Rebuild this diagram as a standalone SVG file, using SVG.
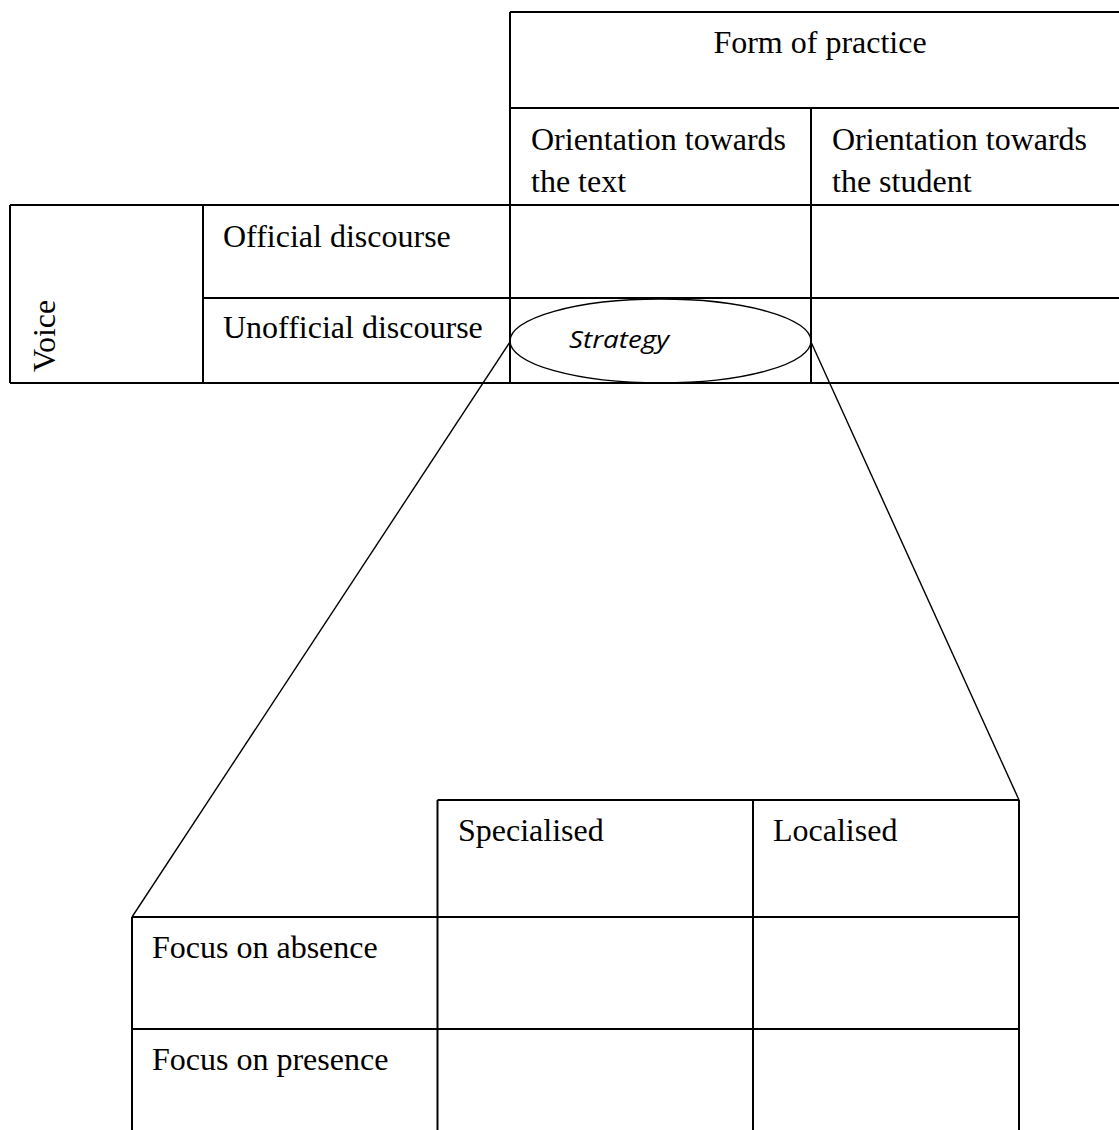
<svg xmlns="http://www.w3.org/2000/svg" width="1119" height="1130" viewBox="0 0 1119 1130">
<style>
.ln{stroke:#000;stroke-width:2;fill:none}
.thin{stroke:#000;stroke-width:1.4;fill:none}
.t{font-family:"Liberation Serif","Times New Roman",serif;font-size:32px;fill:#000}
.s{font-family:"Open Sans","Liberation Sans",sans-serif;font-style:italic;font-size:23px;fill:#000}
</style>
<rect width="1119" height="1130" fill="#fff"/>
<g id="top-table">
<path class="ln" d="M510,12 H1119 M510,108 H1119 M10,205 H1119 M203,298 H1119 M10,383 H1119 M510,12 V383 M811,108 V383 M10,205 V383 M203,205 V383"/>
<text class="t" x="820" y="53" text-anchor="middle">Form of practice</text>
<text class="t" x="531" y="150">Orientation towards</text>
<text class="t" x="531" y="192">the text</text>
<text class="t" x="832" y="150">Orientation towards</text>
<text class="t" x="832" y="192">the student</text>
<text class="t" x="223" y="247">Official discourse</text>
<text class="t" x="223" y="338">Unofficial discourse</text>
<text class="t" transform="translate(55,372) rotate(-90)">Voice</text>
</g>
<g id="strategy">
<ellipse class="thin" cx="660.5" cy="341" rx="150.5" ry="42"/>
<text class="s" x="569" y="348" textLength="100" lengthAdjust="spacingAndGlyphs">Strategy</text>
</g>
<g id="connectors">
<line class="thin" x1="510" y1="342" x2="132" y2="917"/>
<line class="thin" x1="811" y1="342" x2="1019" y2="800"/>
</g>
<g id="bottom-table">
<path class="ln" d="M437.5,800 H1019 M132,917 H1019 M132,1029 H1019 M132,917 V1130 M437.5,800 V1130 M753,800 V1130 M1019,800 V1130"/>
<text class="t" x="458" y="841">Specialised</text>
<text class="t" x="773" y="841">Localised</text>
<text class="t" x="152" y="958">Focus on absence</text>
<text class="t" x="152" y="1070">Focus on presence</text>
</g>
</svg>
